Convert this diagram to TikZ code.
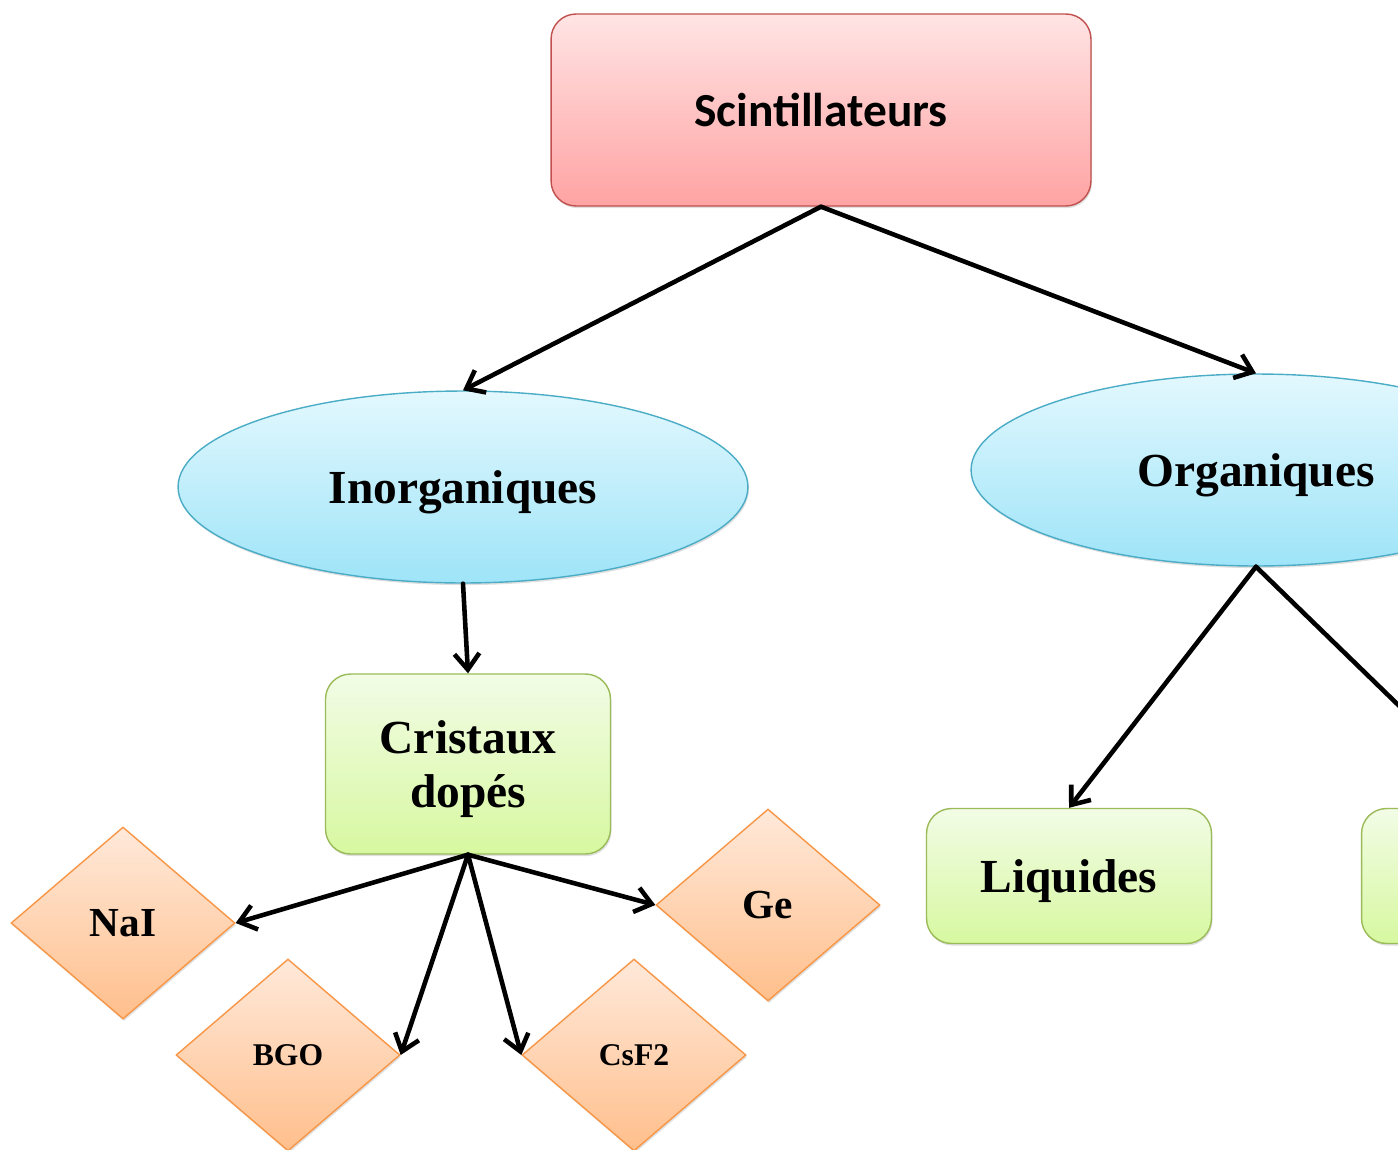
\documentclass[tikz,border=0pt]{standalone}
\usepackage{fontspec}
\setmainfont{Liberation Serif}
\newfontfamily\calibfont{Carlito}
\usetikzlibrary{shapes.geometric,arrows.meta,shadows}

\definecolor{pinkTop}{HTML}{FFE4E4}
\definecolor{pinkBot}{HTML}{FFA3A3}
\definecolor{pinkLine}{HTML}{C0504D}
\definecolor{cyanTop}{HTML}{E3F8FE}
\definecolor{cyanBot}{HTML}{9EE4F8}
\definecolor{cyanLine}{HTML}{4BACC6}
\definecolor{greenTop}{HTML}{F2FCE6}
\definecolor{greenBot}{HTML}{D7F8A0}
\definecolor{greenLine}{HTML}{9BBB59}
\definecolor{orangeTop}{HTML}{FFE9DA}
\definecolor{orangeBot}{HTML}{FFBF8C}
\definecolor{orangeLine}{HTML}{F79646}

\begin{document}
\begin{tikzpicture}[x=0.02cm, y=-0.02cm,
    shadowStyle/.style={drop shadow={opacity=0.25, shadow xshift=0.6pt, shadow yshift=-1.2pt}},
    rootStyle/.style={rectangle, rounded corners=0.5cm, draw=pinkLine, line width=0.8pt, top color=pinkTop, bottom color=pinkBot, shadowStyle, minimum width=10.8cm, minimum height=3.84cm, font=\calibfont\bfseries\fontsize{27}{32}\selectfont},
    ellStyle/.style={ellipse, draw=cyanLine, line width=0.8pt, top color=cyanTop, bottom color=cyanBot, shadowStyle, minimum width=11.4cm, minimum height=3.84cm, text depth=0pt, font=\bfseries\fontsize{27}{32}\selectfont},
    boxStyle/.style={rectangle, rounded corners=0.5cm, draw=greenLine, line width=0.8pt, top color=greenTop, bottom color=greenBot, shadowStyle, minimum width=5.7cm, align=center, text depth=0pt, font=\bfseries\fontsize{27}{31}\selectfont},
    diaStyle/.style={diamond, draw=orangeLine, line width=0.8pt, top color=orangeTop, bottom color=orangeBot, shadowStyle, minimum width=4.48cm, minimum height=3.84cm, inner sep=0pt},
    arrowStyle/.style={line width=2.6pt, line cap=round, line join=round, -{Straight Barb[length=0.32cm, width=0.5cm]}}]
    \path[use as bounding box, clip] (0,0) rectangle (1398,1149);

    \node[rootStyle] (root) at (821, 110) {Scintillateurs};

    \node[ellStyle] (inorg) at (463, 487) {Inorganiques};
    \node[ellStyle] (org)   at (1256, 470) {Organiques};

    \node[boxStyle, minimum height=3.6cm] (cris)  at (468, 764) {Cristaux\\ dopés};
    \node[boxStyle, minimum height=2.7cm] (liq)   at (1069, 876) {Liquides};
    \node[boxStyle, minimum height=2.7cm] (plast) at (1504, 876) {};

    \node[diaStyle, font=\bfseries\fontsize{23.5}{28}\selectfont] (nai) at (123, 923)  {NaI};
    \node[diaStyle, font=\bfseries\fontsize{18}{22}\selectfont]   (bgo) at (288, 1055) {BGO};
    \node[diaStyle, font=\bfseries\fontsize{18}{22}\selectfont]   (csf) at (634, 1055) {CsF2};
    \node[diaStyle, font=\bfseries\fontsize{23.5}{28}\selectfont] (ge)  at (768, 905)  {Ge};

    \draw[arrowStyle] (root.south) -- (inorg.north);
    \draw[arrowStyle] (root.south) -- (org.north);
    \draw[arrowStyle] (inorg.south) -- (cris.north);
    \draw[arrowStyle] (org.south) -- (liq.north);
    \draw[arrowStyle] (org.south) -- (plast.north);

    \draw[arrowStyle] (cris.south) -- (nai.east);
    \draw[arrowStyle] (cris.south) -- (bgo.east);
    \draw[arrowStyle] (cris.south) -- (csf.west);
    \draw[arrowStyle] (cris.south) -- (ge.west);
\end{tikzpicture}
\end{document}
